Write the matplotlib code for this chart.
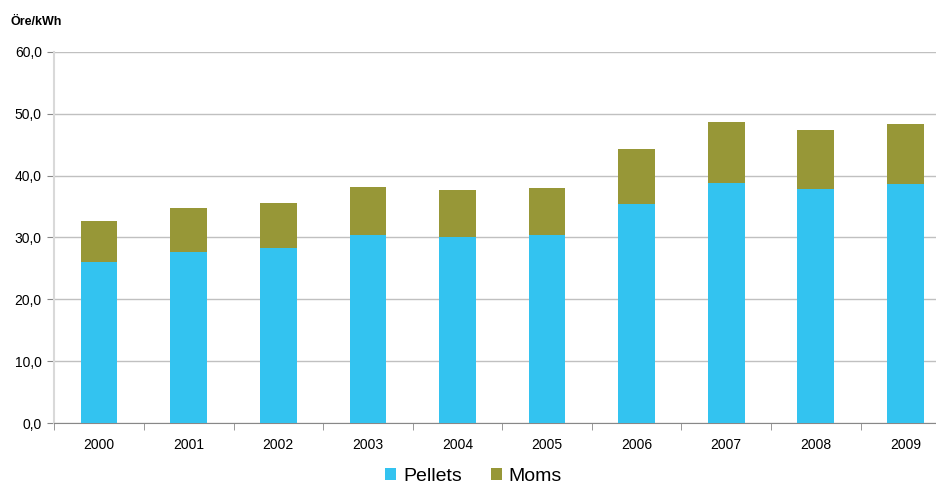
import numpy as np
import matplotlib.pyplot as plt

years = ['2000', '2001', '2002', '2003', '2004', '2005', '2006', '2007', '2008', '2009']
pellets = [26.1, 27.7, 28.3, 30.4, 30.1, 30.4, 35.4, 38.8, 37.9, 38.7]
moms = [6.6, 7.1, 7.3, 7.8, 7.6, 7.6, 8.9, 9.9, 9.5, 9.7]

plt.rcParams['font.family'] = ['Liberation Sans', 'DejaVu Sans']

fig = plt.figure(figsize=(9.37, 4.84), dpi=100)
# axes runs slightly past the right edge, like the original
ax = fig.add_axes([0.058, 0.126, 0.956, 0.767])

x = np.arange(len(years))
ax.bar(x, pellets, width=0.41, color='#33c3f0', label='Pellets', zorder=3)
ax.bar(x, moms, width=0.41, bottom=pellets, color='#979737', label='Moms', zorder=3)

ax.set_ylim(0, 60)
ax.set_xlim(-0.5, len(years) - 0.5)
ax.set_yticks(np.arange(0, 61, 10))
ax.set_yticklabels([f'{v:.1f}'.replace('.', ',') for v in range(0, 61, 10)], fontsize=10)
ax.yaxis.grid(True, color='#c0c0c0', linewidth=1, zorder=0)

ax.set_xticks(x)
ax.set_xticklabels(years, fontsize=10)
ax.set_xticks(np.arange(-0.5, len(years), 1), minor=True)
ax.tick_params(axis='x', which='major', length=0, pad=11)
ax.tick_params(axis='x', which='minor', length=5, color='#888888')
ax.tick_params(axis='y', length=5, color='#888888', pad=4)

for s in ['top', 'right']:
    ax.spines[s].set_visible(False)
ax.spines['left'].set_color('#d9d9d9')
ax.spines['left'].set_linewidth(1.5)
ax.spines['bottom'].set_color('#888888')

fig.text(0.011, 0.949, 'Öre/kWh', fontsize=9, fontweight='bold')

ax.legend(loc='center', bbox_to_anchor=(0.468, -0.144), ncol=2, frameon=False,
          fontsize=14, handlelength=0.55, handleheight=0.55, handletextpad=0.35, columnspacing=1.5)

fig.savefig('out.png', dpi=100)
